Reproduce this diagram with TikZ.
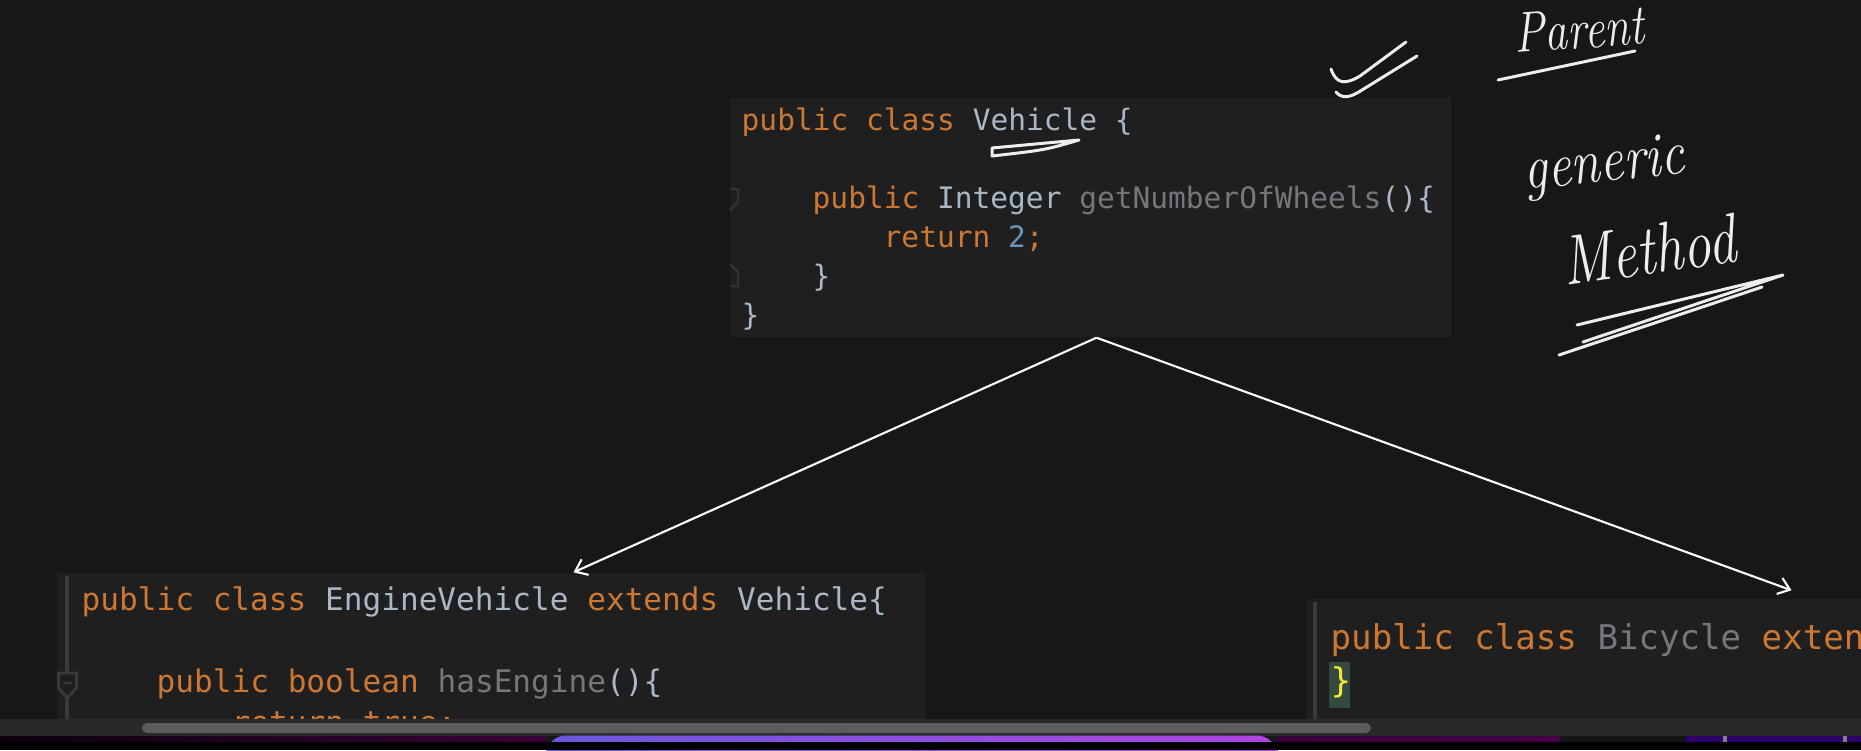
\documentclass[tikz,border=0pt]{standalone}
\usepackage{fontspec}
\newfontfamily\codefont{DejaVu Sans Mono}
\usetikzlibrary{arrows.meta}
\definecolor{bgcol}{HTML}{171717}
\definecolor{panelcol}{HTML}{1F1F20}
\definecolor{kwcol}{HTML}{CC7832}
\definecolor{idcol}{HTML}{A9B7C6}
\definecolor{fncol}{HTML}{74777C}
\definecolor{numcol}{HTML}{6897BB}
\definecolor{gutcol}{HTML}{3A3A3A}
\definecolor{hlcol}{HTML}{34493F}
\definecolor{bracecol}{HTML}{F5E832}
\definecolor{trackcol}{HTML}{292929}
\definecolor{thumbcol}{HTML}{5C5C5C}
\definecolor{inkcol}{HTML}{EDEDED}
\definecolor{barleft}{HTML}{6A58DA}
\definecolor{barright}{HTML}{B044E2}
\tikzset{
	panel/.style={fill=panelcol, inner sep=0pt},
	vcode/.style={anchor=base west, inner sep=0pt, text=idcol, font=\codefont\fontsize{8.4}{10}\selectfont},
	ecode/.style={vcode, font=\codefont\fontsize{8.85}{10}\selectfont},
	bcode/.style={vcode, font=\codefont\fontsize{9.7}{11}\selectfont},
	ink/.style={draw=inkcol, line width=0.85pt, line cap=round, line join=round},
	hand/.style={anchor=base west, inner sep=0pt, text=inkcol, transform shape},
	arr/.style={draw=white, line width=0.6pt, -{Straight Barb[length=1.1mm,width=1.7mm]}}
}
\begin{document}
\begin{tikzpicture}
		\useasboundingbox (0,0) rectangle (18.61,-7.5);
		\clip (0,0) rectangle (18.61,-7.5);
		\fill[bgcol] (0,0) rectangle (18.61,-7.5);
		\node[panel, minimum width=7.21cm, minimum height=2.39cm] (vehicle) at (10.905,-2.175) {};
		\node[panel, minimum width=8.69cm, minimum height=1.52cm] (engine) at (4.915,-6.49) {};
		\node[panel, minimum width=5.55cm, minimum height=1.26cm] (bicycle) at (15.835,-6.62) {};
		\draw[gutcol!70!panelcol, line width=0.7pt] (7.30,-1.89) -- (7.38,-1.89) -- (7.38,-2.02) -- (7.30,-2.10);
		\draw[gutcol!70!panelcol, line width=0.7pt] (7.30,-2.64) -- (7.38,-2.72) -- (7.38,-2.86) -- (7.30,-2.86);
		\node[vcode] (v1) at (7.41,-1.30) {\textcolor{kwcol}{public class} Vehicle \{};
		\node[vcode] (v2) at (8.12,-2.08) {\textcolor{kwcol}{public} Integer \textcolor{fncol}{getNumberOfWheels}()\{};
		\node[vcode] (v3) at (8.83,-2.47) {\textcolor{kwcol}{return} \textcolor{numcol}{2}\textcolor{kwcol}{;}};
		\node[vcode] (v4) at (8.12,-2.86) {\}};
		\node[vcode] (v5) at (7.41,-3.25) {\}};
		\draw[gutcol, line width=1.2pt] (0.67,-5.76) -- (0.67,-7.2);
		\draw[gutcol, fill=panelcol, line width=0.8pt] (0.585,-6.73) -- (0.765,-6.73) -- (0.765,-6.88) -- (0.675,-6.98) -- (0.585,-6.88) -- cycle;
		\draw[gutcol, line width=0.8pt] (0.63,-6.83) -- (0.72,-6.83);
		\node[ecode] (e1) at (0.81,-6.10) {\textcolor{kwcol}{public class} EngineVehicle \textcolor{kwcol}{extends} Vehicle\{};
		\node[ecode] (e2) at (1.56,-6.92) {\textcolor{kwcol}{public boolean} \textcolor{fncol}{hasEngine}()\{};
		\node[ecode] (e3) at (2.31,-7.33) {\textcolor{kwcol}{return true;}};
		\draw[gutcol, line width=1.2pt] (13.15,-6.02) -- (13.15,-7.2);
		\fill[hlcol] (13.29,-6.62) rectangle (13.50,-7.08);
		\node[bcode] (b1) at (13.30,-6.49) {\textcolor{kwcol}{public class} \textcolor{fncol}{Bicycle} \textcolor{kwcol}{exten}};
		\node[bcode, text=bracecol] (b2) at (13.30,-6.92) {\}};
		\draw[arr] ([xshift=0.06cm]vehicle.south) -- ([xshift=0.82cm]engine.north);
		\draw[arr] ([xshift=0.06cm]vehicle.south) -- ([xshift=2.08cm,yshift=0.08cm]bicycle.north);
		\draw[ink] (9.92,-1.48) -- (10.79,-1.40) .. controls (10.45,-1.50) .. (9.92,-1.56) -- cycle;
		\draw[ink] (13.31,-0.69) .. controls (13.36,-0.84) and (13.45,-0.85) .. (13.60,-0.76) -- (14.06,-0.42);
		\draw[ink] (13.36,-0.92) .. controls (13.42,-0.99) and (13.50,-0.98) .. (13.62,-0.90) -- (14.17,-0.56);
		\node[hand, font=\itshape\fontsize{13}{15}\selectfont, rotate=4, yscale=1.25] (parent) at (15.15,-0.53) {Parent};
		\draw[ink] (14.98,-0.80) -- (16.35,-0.51);
		\node[hand, font=\itshape\fontsize{15}{17}\selectfont, rotate=6, yscale=1.2] (generic) at (15.25,-1.90) {generic};
		\node[hand, font=\itshape\fontsize{16}{18}\selectfont, rotate=8, yscale=1.25] (method) at (15.65,-2.86) {Method};
		\draw[ink] (15.77,-3.25) -- (17.83,-2.75) -- (15.83,-3.42);
		\draw[ink] (15.59,-3.55) -- (17.62,-2.87);
		\fill[trackcol] (0,-7.19) rectangle (18.61,-7.36);
		\fill[thumbcol, rounded corners=0.05cm] (1.42,-7.23) rectangle (13.71,-7.33);
		\shade[left color=black!90!violet, right color=violet!45!black] (0,-7.36) rectangle (5.46,-7.42);
		\shade[left color=violet!45!black, right color=violet!55!black] (12.77,-7.36) rectangle (15.60,-7.42);
		\fill[black!92] (15.60,-7.36) rectangle (16.86,-7.42);
		\fill[violet!60!blue!60!black] (16.86,-7.36) rectangle (18.61,-7.42);
		\shade[left color=barleft, right color=barright, rounded corners=0.2cm] (5.46,-7.355) rectangle (12.77,-7.7);
		\fill[black] (0,-7.42) rectangle (18.61,-7.5);
		\draw[gray, line width=1.2pt] (17.25,-7.36) -- (17.25,-7.42);
		\draw[gray, line width=1.2pt] (18.45,-7.36) -- (18.45,-7.42);
\end{tikzpicture}
\end{document}
